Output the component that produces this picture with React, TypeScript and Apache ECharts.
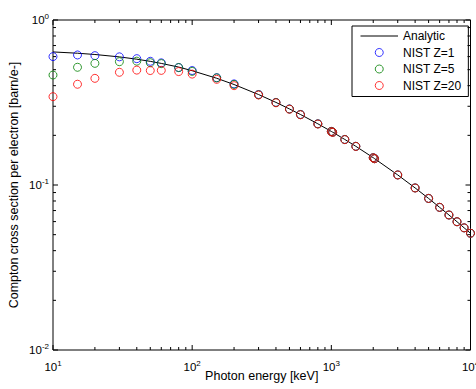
import React, { useEffect, useRef } from "react";
import * as echarts from "echarts";

// Photon energies (keV)
const energies = [10, 15, 20, 30, 40, 50, 60, 80, 100, 150, 200, 300, 400, 500, 600, 800, 1000, 1022, 1250, 1500, 2000, 2044, 3000, 4000, 5000, 6000, 7000, 8000, 9000, 10000];
// Analytic (Klein-Nishina) cross section per electron [barn/e-]
const analytic = [0.6405, 0.6289, 0.6179, 0.5975, 0.5787, 0.5615, 0.5456, 0.5185, 0.4927, 0.4435, 0.4065, 0.3534, 0.3167, 0.2891, 0.2675, 0.2349, 0.2112, 0.209, 0.1888, 0.1716, 0.1464, 0.1445, 0.1151, 0.096, 0.0829, 0.0732, 0.0658, 0.0599, 0.055, 0.051];
// NIST data
const nistZ1 = [0.6, 0.614, 0.608, 0.598, 0.583, 0.562, 0.55, 0.515, 0.494, 0.447, 0.41, 0.3534, 0.3167, 0.2891, 0.2675, 0.2349, 0.2112, 0.209, 0.1888, 0.1716, 0.1464, 0.1445, 0.1151, 0.096, 0.0829, 0.0732, 0.0658, 0.0599, 0.055, 0.051];
const nistZ5 = [0.464, 0.517, 0.546, 0.559, 0.563, 0.551, 0.544, 0.515, 0.488, 0.446, 0.407, 0.3525, 0.3162, 0.2888, 0.2672, 0.2347, 0.2111, 0.2089, 0.1887, 0.1715, 0.1463, 0.1444, 0.1151, 0.096, 0.0829, 0.0732, 0.0658, 0.0599, 0.055, 0.051];
const nistZ20 = [0.343, 0.408, 0.443, 0.482, 0.497, 0.494, 0.495, 0.487, 0.47, 0.437, 0.4, 0.351, 0.315, 0.2878, 0.2665, 0.2342, 0.2107, 0.2085, 0.1884, 0.1713, 0.1462, 0.1443, 0.115, 0.0959, 0.0829, 0.0732, 0.0658, 0.0599, 0.055, 0.051];

const xMajorTicks = [10, 100, 1000, 10000];
const xMinorTicks = [20, 30, 40, 50, 60, 70, 80, 90, 200, 300, 400, 500, 600, 700, 800, 900, 2000, 3000, 4000, 5000, 6000, 7000, 8000, 9000];
const yMajorTicks = [0.01, 0.1, 1];
const yMinorTicks = [0.02, 0.03, 0.04, 0.05, 0.06, 0.07, 0.08, 0.09, 0.2, 0.3, 0.4, 0.5, 0.6, 0.7, 0.8, 0.9];

const X_MIN = 10;
const X_MAX = 10000;
const Y_MIN = 0.01;
const Y_MAX = 1;

const FONT = "'Liberation Sans', Arial, Helvetica, sans-serif";

export default function App() {
  const ref = useRef<HTMLDivElement>(null);

  useEffect(() => {
    const chart = echarts.init(ref.current!, null, { renderer: "svg" });
    const pow = (v: number) => `{b|10}{e|${Math.round(Math.log10(v))}}`;
    const rich = {
      b: { fontSize: 11.5, fontFamily: FONT, color: "#000" },
      e: { fontSize: 8, fontFamily: FONT, color: "#000", padding: [0, 0, 7, 0] },
    };
    const MAJOR = 5;
    const MINOR = 3;

    const xTickData = [
      ...xMajorTicks.map((v) => [v, 0.1, MAJOR]),
      ...xMinorTicks.map((v) => [v, 0.1, MINOR]),
    ];
    const yTickData = [
      ...yMajorTicks.map((v) => [100, v, MAJOR]),
      ...yMinorTicks.map((v) => [100, v, MINOR]),
    ];

    const lineStyle = { stroke: "#000", lineWidth: 1 };
    const ringLegend = (name: string, color: string) => ({
      name,
      icon: "circle",
      itemStyle: { color: "rgba(0,0,0,0)", borderColor: color, borderWidth: 1 },
    });

    chart.setOption({
      animation: false,
      backgroundColor: "#fff",
      grid: {
        left: 53,
        right: 5.5,
        top: 20,
        bottom: 39,
        outerBoundsMode: "none",
        containLabel: false,
        show: true,
        borderColor: "#000",
        borderWidth: 1,
        backgroundColor: "#fff",
      },
      legend: {
        data: [
          {
            name: "Analytic",
            itemStyle: { opacity: 0 },
            lineStyle: { width: 1, color: "#000" },
          },
          ringLegend("NIST Z=1", "#0000ff"),
          ringLegend("NIST Z=5", "#008000"),
          ringLegend("NIST Z=20", "#ff0000"),
        ],
        orient: "vertical",
        left: 352,
        top: 26,
        padding: [4, 7, 5, 8],
        itemWidth: 37.5,
        itemHeight: 8,
        itemGap: 4.5,
        backgroundColor: "#fff",
        borderColor: "#000",
        borderWidth: 1,
        borderRadius: 0,
        textStyle: { fontSize: 12, fontFamily: FONT, color: "#000" },
        selectedMode: false,
      },
      xAxis: {
        type: "log",
        logBase: 10,
        min: X_MIN,
        max: X_MAX,
        axisLine: { show: false },
        axisTick: { show: false },
        splitLine: { show: false },
        axisLabel: { formatter: pow, rich, margin: 9 },
        name: "Photon energy [keV]",
        nameLocation: "middle",
        nameGap: 19,
        nameMoveOverlap: false,
        nameTextStyle: { fontSize: 12.5, fontFamily: FONT, color: "#000" },
      },
      yAxis: {
        type: "log",
        logBase: 10,
        min: Y_MIN,
        max: Y_MAX,
        axisLine: { show: false },
        axisTick: { show: false },
        splitLine: { show: false },
        axisLabel: { formatter: pow, rich, margin: 4 },
        name: "Compton cross section per electron [barn/e-]",
        nameLocation: "middle",
        nameGap: 33,
        nameMoveOverlap: false,
        nameTextStyle: { fontSize: 12.5, fontFamily: FONT, color: "#000" },
      },
      series: [
        {
          name: "Analytic",
          type: "line",
          data: energies.map((e, i) => [e, analytic[i]]),
          symbol: "none",
          lineStyle: { color: "#000", width: 1 },
          itemStyle: { color: "#000" },
          z: 2,
        },
        {
          name: "NIST Z=1",
          type: "scatter",
          data: energies.map((e, i) => [e, nistZ1[i]]),
          symbol: "circle",
          symbolSize: 8,
          itemStyle: { color: "rgba(0,0,0,0)", borderColor: "#0000ff", borderWidth: 1 },
          z: 3,
        },
        {
          name: "NIST Z=5",
          type: "scatter",
          data: energies.map((e, i) => [e, nistZ5[i]]),
          symbol: "circle",
          symbolSize: 8,
          itemStyle: { color: "rgba(0,0,0,0)", borderColor: "#008000", borderWidth: 1 },
          z: 3,
        },
        {
          name: "NIST Z=20",
          type: "scatter",
          data: energies.map((e, i) => [e, nistZ20[i]]),
          symbol: "circle",
          symbolSize: 8,
          itemStyle: { color: "rgba(0,0,0,0)", borderColor: "#ff0000", borderWidth: 1 },
          z: 3,
        },
        {
          type: "custom",
          silent: true,
          clip: false,
          z: 4,
          data: xTickData,
          renderItem: (_p: any, api: any) => {
            const x = api.value(0);
            const len = api.value(2);
            const b = api.coord([x, Y_MIN]);
            const t = api.coord([x, Y_MAX]);
            return {
              type: "group",
              children: [
                { type: "line", shape: { x1: b[0], y1: b[1], x2: b[0], y2: b[1] - len }, style: lineStyle },
                { type: "line", shape: { x1: t[0], y1: t[1], x2: t[0], y2: t[1] + len }, style: lineStyle },
              ],
            };
          },
        },
        {
          type: "custom",
          silent: true,
          clip: false,
          z: 4,
          data: yTickData,
          renderItem: (_p: any, api: any) => {
            const y = api.value(1);
            const len = api.value(2);
            const l = api.coord([X_MIN, y]);
            const r = api.coord([X_MAX, y]);
            return {
              type: "group",
              children: [
                { type: "line", shape: { x1: l[0], y1: l[1], x2: l[0] + len, y2: l[1] }, style: lineStyle },
                { type: "line", shape: { x1: r[0], y1: r[1], x2: r[0] - len, y2: r[1] }, style: lineStyle },
              ],
            };
          },
        },
      ],
    });

    return () => chart.dispose();
  }, []);

  return (
    <div
      ref={ref}
      style={{ position: "fixed", left: 0, top: 0, width: 476, height: 389, background: "#fff" }}
    />
  );
}
